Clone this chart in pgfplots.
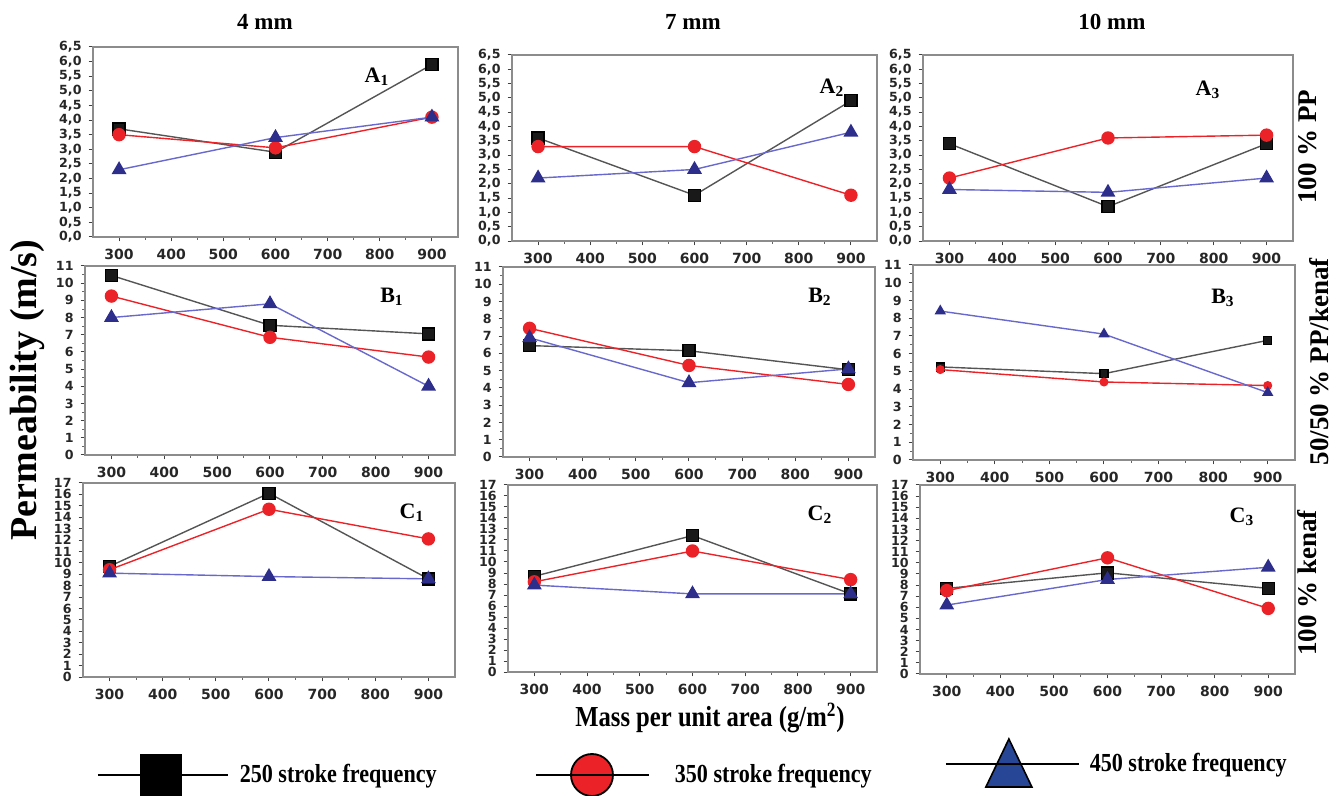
\documentclass[border=0pt]{standalone}
\usepackage{fontspec}
\setmainfont{Liberation Serif}
\setsansfont{DejaVu Sans}
\newfontfamily\condserif{Liberation Serif}[FakeStretch=0.85]
\usepackage{pgfplots}
\pgfplotsset{compat=1.18}
\definecolor{c250line}{RGB}{85,85,85}
\definecolor{c350}{RGB}{235,35,40}
\definecolor{c450line}{RGB}{105,105,205}
\definecolor{c450mark}{RGB}{45,45,140}
\definecolor{legblue}{RGB}{40,70,150}
\definecolor{framegray}{RGB}{140,140,140}
\pgfplotsset{
  panel/.style={scale only axis, anchor=north west, xmin=250, xmax=950,
    xtick={300,400,500,600,700,800,900}, minor x tick num=1, minor y tick num=1,
    tick align=outside, xtick pos=left, ytick pos=left,
    axis line style={draw=framegray, line width=0.9pt},
    major tick style={black!75, line width=0.5pt},
    minor tick style={black!60, line width=0.4pt},
    major tick length=2.2pt, minor tick length=1.4pt,
    tick label style={font=\fontsize{6.3}{7}\sffamily\bfseries, text=black!85},
    xticklabel style={yshift=-0.5pt, font=\fontsize{7}{8}\sffamily\bfseries},
    /pgf/number format/assume math mode=true, clip=false},
  rowA/.style={ymin=0, ymax=6.5, ytick={0,0.5,1,1.5,2,2.5,3,3.5,4,4.5,5,5.5,6,6.5}, minor y tick num=0,
    y tick label style={/pgf/number format/.cd, fixed, fixed zerofill, precision=1, use comma, /tikz/.cd}},
  rowB/.style={ymin=0, ymax=11, ytick={0,1,...,11}},
  rowC/.style={ymin=0, ymax=17, ytick={0,1,...,17}, minor y tick num=0},
  s250/.style={c250line, line width=0.7pt, mark=square*, mark size=3pt, mark options={draw=black, fill=black!90}},
  s350/.style={c350, line width=0.7pt, mark=*, mark size=3pt, mark options={draw=c350, fill=c350}},
  s450/.style={c450line, line width=0.7pt, mark=triangle*, mark size=3.6pt, mark options={draw=c450mark, fill=c450mark}},
  leg/.style={hide axis, scale only axis, anchor=south west, at={(0pt,-398pt)}, width=670pt, height=50pt,
    xmin=0, xmax=1, ymin=0, ymax=1,
    legend style={anchor=west, draw=none, fill=none, inner sep=0pt, outer sep=0pt,
      nodes={inner sep=0pt}, font=\fontsize{13}{14}\condserif\bfseries}},
}
\begin{document}
\begin{tikzpicture}
\useasboundingbox (0,0) rectangle (670pt,-398pt);
% ---------- Row A: 100 % PP ----------
\begin{axis}[panel, rowA, at={(46.5pt,-23.5pt)}, width=182.5pt, height=95pt]
\addplot[s250] coordinates {(300,3.7) (600,2.9) (900,5.9)};
\addplot[s350] coordinates {(300,3.5) (600,3.05) (900,4.1)};
\addplot[s450] coordinates {(300,2.3) (600,3.4) (900,4.1)};
\end{axis}
\begin{axis}[panel, rowA, at={(256pt,-27.5pt)}, width=182.5pt, height=93pt]
\addplot[s250] coordinates {(300,3.6) (600,1.6) (900,4.9)};
\addplot[s350] coordinates {(300,3.3) (600,3.3) (900,1.6)};
\addplot[s450] coordinates {(300,2.2) (600,2.5) (900,3.8)};
\end{axis}
\begin{axis}[panel, rowA, at={(461.5pt,-27.5pt)}, width=185pt, height=93pt]
\addplot[s250] coordinates {(300,3.4) (600,1.2) (900,3.4)};
\addplot[s350] coordinates {(300,2.2) (600,3.6) (900,3.7)};
\addplot[s450] coordinates {(300,1.8) (600,1.7) (900,2.2)};
\end{axis}
% ---------- Row B: 50/50 % PP/kenaf ----------
\begin{axis}[panel, rowB, at={(42.5pt,-133pt)}, width=185pt, height=94.5pt]
\addplot[s250] coordinates {(300,10.45) (600,7.55) (900,7.05)};
\addplot[s350] coordinates {(300,9.25) (600,6.85) (900,5.7)};
\addplot[s450] coordinates {(300,8.0) (600,8.8) (900,4.0)};
\end{axis}
\begin{axis}[panel, rowB, at={(251.5pt,-133.5pt)}, width=186pt, height=95pt]
\addplot[s250] coordinates {(300,6.45) (600,6.15) (900,5.05)};
\addplot[s350] coordinates {(300,7.45) (600,5.3) (900,4.2)};
\addplot[s450] coordinates {(300,6.9) (600,4.3) (900,5.1)};
\end{axis}
\begin{axis}[panel, rowB, at={(456.5pt,-132.5pt)}, width=191pt, height=97.5pt]
\addplot[s250, mark size=2pt] coordinates {(300,5.25) (600,4.87) (900,6.75)};
\addplot[s350, mark size=1.9pt] coordinates {(300,5.1) (600,4.4) (900,4.2)};
\addplot[s450, mark size=2.6pt] coordinates {(300,8.4) (600,7.1) (900,3.8)};
\end{axis}
% ---------- Row C: 100 % kenaf ----------
\begin{axis}[panel, rowC, at={(41.5pt,-241.5pt)}, width=186pt, height=97pt]
\addplot[s250] coordinates {(300,9.7) (600,16.1) (900,8.6)};
\addplot[s350] coordinates {(300,9.4) (600,14.7) (900,12.1)};
\addplot[s450] coordinates {(300,9.1) (600,8.8) (900,8.6)};
\end{axis}
\begin{axis}[panel, rowC, at={(254pt,-242.5pt)}, width=184.5pt, height=93.5pt]
\addplot[s250] coordinates {(300,8.7) (600,12.4) (900,7.1)};
\addplot[s350] coordinates {(300,8.2) (600,11.0) (900,8.4)};
\addplot[s450] coordinates {(300,7.9) (600,7.1) (900,7.1)};
\end{axis}
\begin{axis}[panel, rowC, at={(460pt,-242.5pt)}, width=187.5pt, height=94.5pt]
\addplot[s250] coordinates {(300,7.7) (600,9.1) (900,7.7)};
\addplot[s350] coordinates {(300,7.5) (600,10.45) (900,5.9)};
\addplot[s450] coordinates {(300,6.2) (600,8.5) (900,9.6)};
\end{axis}
% ---------- Legends ----------
\begin{axis}[leg, legend style={at={(0.0724,0.21)}, column sep=5.5pt}]
\addlegendimage{legend image code/.code={
  \fill[black] (21pt,-10.5pt) rectangle (41.5pt,10.5pt);
  \draw[black, line width=0.9pt] (0pt,0pt) -- (21pt,0pt) (41.5pt,0pt) -- (65pt,0pt);}}
\addlegendentry{250 stroke frequency}
\end{axis}
\begin{axis}[leg, legend style={at={(0.3993,0.21)}, column sep=12.5pt}]
\addlegendimage{legend image code/.code={
  \draw[black, line width=0.9pt, fill=c350] (28pt,0pt) circle (10.5pt);
  \draw[black, line width=0.9pt] (0pt,0pt) -- (56.5pt,0pt);}}
\addlegendentry{350 stroke frequency}
\end{axis}
\begin{axis}[leg, legend style={at={(0.7052,0.33)}, column sep=5pt}]
\addlegendimage{legend image code/.code={
  \draw[black, line width=0.8pt, fill=legblue] (20pt,-11.5pt) -- (43pt,-11.5pt) -- (31.5pt,12.5pt) -- cycle;
  \draw[black, line width=0.9pt] (0pt,0pt) -- (66.5pt,0pt);}}
\addlegendentry{450 stroke frequency}
\end{axis}
% ---------- Titles and labels ----------
\begin{scope}[every node/.style={font=\fontsize{11.5}{13}\selectfont\bfseries}]
\node at (132.5pt,-11pt) {4 mm};
\node at (346.5pt,-11pt) {7 mm};
\node at (556pt,-11pt) {10 mm};
\end{scope}
\node[rotate=90, font=\fontsize{19}{22}\selectfont\bfseries] at (13.5pt,-195pt) {Permeability (m/s)};
\begin{scope}[every node/.style={rotate=90, font=\fontsize{13.5}{15}\selectfont\bfseries}]
\node at (654pt,-73.5pt) {100 \% PP};
\node at (659.5pt,-181pt) {50/50 \% PP/kenaf};
\node at (653.5pt,-291.5pt) {100 \%  kenaf};
\end{scope}
\node[font=\fontsize{14.5}{16}\condserif\bfseries] at (355pt,-359pt) {Mass per unit area (g/m\textsuperscript{2})};
\begin{scope}[every node/.style={font=\fontsize{11}{12}\selectfont\bfseries}]
\node at (188.5pt,-38.5pt) {A\textsubscript{1}};
\node at (416pt,-44pt) {A\textsubscript{2}};
\node at (604pt,-45pt) {A\textsubscript{3}};
\node at (196pt,-148.5pt) {B\textsubscript{1}};
\node at (410pt,-148.5pt) {B\textsubscript{2}};
\node at (611.5pt,-149pt) {B\textsubscript{3}};
\node at (206pt,-256.5pt) {C\textsubscript{1}};
\node at (410pt,-257.5pt) {C\textsubscript{2}};
\node at (621pt,-258.5pt) {C\textsubscript{3}};
\end{scope}
\end{tikzpicture}
\end{document}
